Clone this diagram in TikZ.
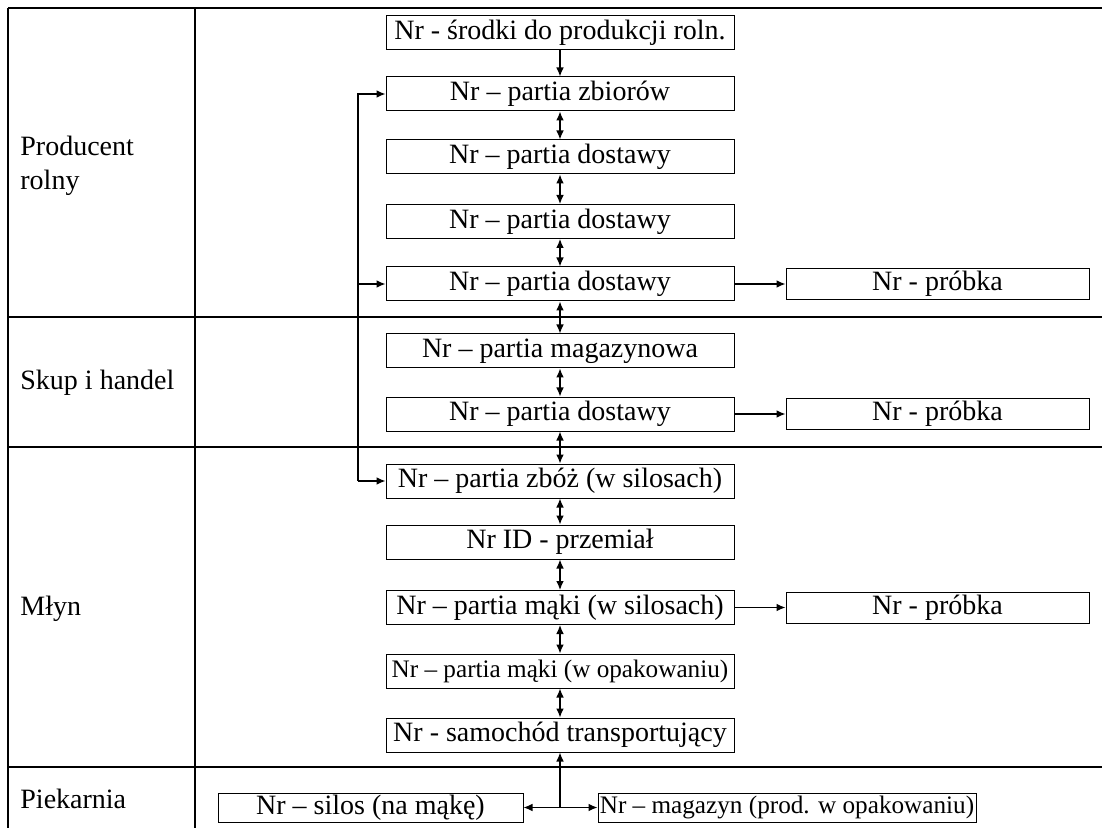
\documentclass[tikz,border=0pt]{standalone}
\usepackage{fontspec}
\setmainfont{Liberation Serif}
\usetikzlibrary{arrows.meta,calc}
\begin{document}
\begin{tikzpicture}[x=0.5pt,y=-0.5pt,
  frame/.style={line width=0.8pt},
  idbox/.style={draw,line width=0.5pt,inner sep=0pt,minimum width=174pt,minimum height=17pt,font=\fontsize{14}{16}\selectfont},
  smallbox/.style={idbox,font=\fontsize{12.6}{14}\selectfont},
  sample/.style={draw,line width=0.5pt,inner sep=0pt,minimum width=151.5pt,minimum height=15.5pt,font=\fontsize{14}{16}\selectfont},
  lane/.style={anchor=west,align=left,inner sep=0pt,font=\fontsize{14}{17}\selectfont},
  arr/.style={line width=0.6pt,-{Latex[length=4.5pt,width=3.8pt]}},
  darr/.style={line width=0.6pt,{Latex[length=4.5pt,width=3.8pt]}-{Latex[length=4.5pt,width=3.8pt]}}]
\useasboundingbox (0,0) rectangle (1102,828);
% table frame
\draw[frame] (8,8) -- (1102,8);
\draw[frame] (8,8) -- (8,828);
\draw[frame] (195,8) -- (195,828);
\draw[frame] (8,317) -- (1102,317);
\draw[frame] (8,447) -- (1102,447);
\draw[frame] (8,767) -- (1102,767);
% lane labels
\node[lane] (l1) at (20,166) {Producent\\rolny};
\node[lane] (l2) at (20,383) {Skup i handel};
\node[lane] (l3) at (20,609) {Młyn};
\node[lane] (l4) at (20,799) {Piekarnia};
% boxes
\node[idbox] (b1) at (560,33) {Nr - środki do produkcji roln.};
\node[idbox] (b2) at (560,94) {Nr – partia zbiorów};
\node[idbox] (b3) at (560,157) {Nr – partia dostawy};
\node[idbox] (b4) at (560,221.5) {Nr – partia dostawy};
\node[idbox] (b5) at (560,284) {Nr – partia dostawy};
\node[idbox] (b6) at (560,351) {Nr – partia magazynowa};
\node[idbox] (b7) at (560,414) {Nr – partia dostawy};
\node[idbox] (b8) at (560,481) {Nr – partia zbóż (w silosach)};
\node[idbox] (b9) at (560,542) {Nr ID - przemiał};
\node[idbox] (b10) at (560,607.5) {Nr – partia mąki (w silosach)};
\node[smallbox] (b11) at (560,671) {Nr – partia mąki (w opakowaniu)};
\node[idbox] (b12) at (560,735) {Nr - samochód transportujący};
\node[sample] (s1) at (937.5,284) {Nr - próbka};
\node[sample] (s2) at (937.5,414) {Nr - próbka};
\node[sample] (s3) at (937.5,607.5) {Nr - próbka};
\node[draw,line width=0.5pt,inner sep=0pt,minimum width=152.5pt,minimum height=14.5pt,font=\fontsize{14}{16}\selectfont] (p1) at (370.5,807.5) {Nr – silos (na mąkę)};
\node[draw,line width=0.5pt,inner sep=0pt,minimum width=189pt,minimum height=14.5pt,font=\fontsize{12.6}{14}\selectfont] (p2) at (787,807.5) {Nr – magazyn (prod. w opakowaniu)};
% vertical chain
\draw[arr] (b1) -- (b2);
\draw[darr] (b2) -- (b3);
\draw[darr] (b3) -- (b4);
\draw[darr] (b4) -- (b5);
\draw[darr] (b5) -- (b6);
\draw[darr] (b6) -- (b7);
\draw[darr] (b7) -- (b8);
\draw[darr] (b8) -- (b9);
\draw[darr] (b9) -- (b10);
\draw[darr] (b10) -- (b11);
\draw[darr] (b11) -- (b12);
% samples
\draw[arr] (b5) -- (s1);
\draw[arr] (b7) -- (s2);
\draw[arr] (b10) -- (s3);
% loop on the left
\coordinate (lp8) at (358,481);
\coordinate (lp5) at (358,284);
\draw[arr] (lp8) |- (b2.west);
\draw[arr] (lp8) -- (b8.west);
\draw[arr] (lp5) -- (b5.west);
% transport to bakery
\coordinate (tj) at (b12.south |- p1.east);
\draw[arr] (tj) -- (b12.south);
\draw[arr] (tj) -- (p1.east);
\draw[arr] (tj) -- (p2.west);
\end{tikzpicture}
\end{document}
